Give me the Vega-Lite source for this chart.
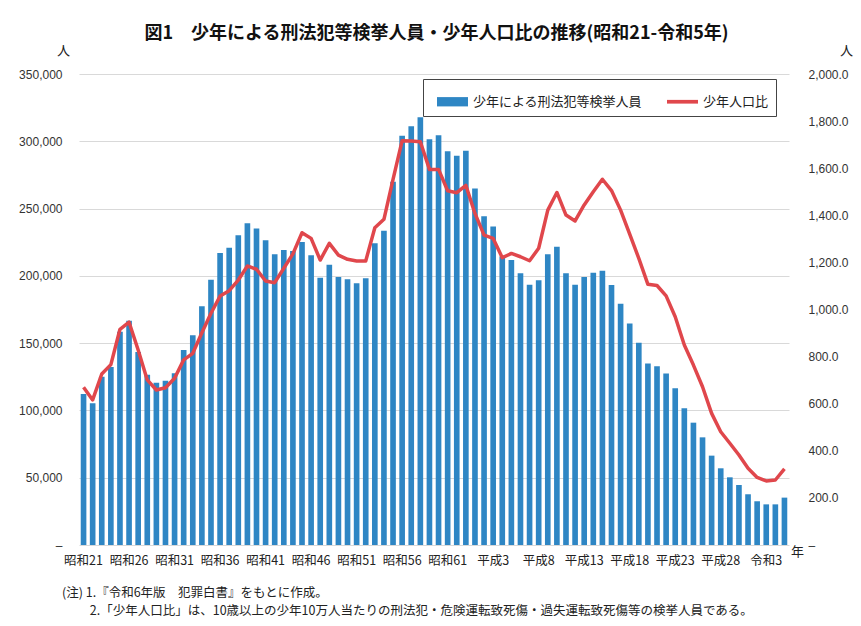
{
  "$schema": "https://vega.github.io/schema/vega-lite/v6.json",
  "width": 710,
  "height": 471,
  "autosize": {"type": "none"},
  "padding": {"left": 79, "top": 74, "right": 72, "bottom": 81},
  "background": "white",
  "config": {"view": {"stroke": null}, "font": "Noto Sans CJK JP"},
  "title": {
    "text": ["(注) 1.『令和6年版　犯罪白書』をもとに作成。", "\u200b　　   2.「少年人口比」は、10歳以上の少年10万人当たりの刑法犯・危険運転致死傷・過失運転致死傷等の検挙人員である。"],
    "orient": "bottom", "anchor": "start", "frame": "group", "dx": -17, "offset": 20,
    "fontSize": 12.5, "fontWeight": "normal", "color": "#222", "lineHeight": 18, "font": "Noto Sans CJK JP"
  },
  "data": {"values": [
    {"y": "昭和21", "n": 112200, "r": 670},
    {"y": "昭和22", "n": 105300, "r": 616},
    {"y": "昭和23", "n": 125100, "r": 726},
    {"y": "昭和24", "n": 132300, "r": 766},
    {"y": "昭和25", "n": 158500, "r": 916},
    {"y": "昭和26", "n": 166700, "r": 946},
    {"y": "昭和27", "n": 143400, "r": 828},
    {"y": "昭和28", "n": 126600, "r": 701},
    {"y": "昭和29", "n": 120600, "r": 658},
    {"y": "昭和30", "n": 122100, "r": 668},
    {"y": "昭和31", "n": 127600, "r": 708},
    {"y": "昭和32", "n": 144900, "r": 786},
    {"y": "昭和33", "n": 155800, "r": 814},
    {"y": "昭和34", "n": 177400, "r": 901},
    {"y": "昭和35", "n": 197200, "r": 984},
    {"y": "昭和36", "n": 217000, "r": 1057},
    {"y": "昭和37", "n": 220900, "r": 1080},
    {"y": "昭和38", "n": 230100, "r": 1125},
    {"y": "昭和39", "n": 239000, "r": 1185},
    {"y": "昭和40", "n": 235100, "r": 1171},
    {"y": "昭和41", "n": 226400, "r": 1121},
    {"y": "昭和42", "n": 216000, "r": 1114},
    {"y": "昭和43", "n": 219200, "r": 1175},
    {"y": "昭和44", "n": 218500, "r": 1236},
    {"y": "昭和45", "n": 225200, "r": 1326},
    {"y": "昭和46", "n": 215300, "r": 1302},
    {"y": "昭和47", "n": 198600, "r": 1210},
    {"y": "昭和48", "n": 208300, "r": 1281},
    {"y": "昭和49", "n": 199200, "r": 1231},
    {"y": "昭和50", "n": 197400, "r": 1213},
    {"y": "昭和51", "n": 194500, "r": 1206},
    {"y": "昭和52", "n": 198200, "r": 1206},
    {"y": "昭和53", "n": 224200, "r": 1347},
    {"y": "昭和54", "n": 233600, "r": 1383},
    {"y": "昭和55", "n": 270000, "r": 1553},
    {"y": "昭和56", "n": 304200, "r": 1717},
    {"y": "昭和57", "n": 311100, "r": 1715},
    {"y": "昭和58", "n": 317800, "r": 1712},
    {"y": "昭和59", "n": 301500, "r": 1595},
    {"y": "昭和60", "n": 304400, "r": 1595},
    {"y": "昭和61", "n": 292600, "r": 1504},
    {"y": "昭和62", "n": 289300, "r": 1496},
    {"y": "昭和63", "n": 293000, "r": 1527},
    {"y": "平成元", "n": 265000, "r": 1408},
    {"y": "平成2", "n": 244300, "r": 1316},
    {"y": "平成3", "n": 236600, "r": 1302},
    {"y": "平成4", "n": 214300, "r": 1220},
    {"y": "平成5", "n": 211800, "r": 1238},
    {"y": "平成6", "n": 201900, "r": 1224},
    {"y": "平成7", "n": 193400, "r": 1207},
    {"y": "平成8", "n": 196700, "r": 1260},
    {"y": "平成9", "n": 216000, "r": 1422},
    {"y": "平成10", "n": 221700, "r": 1497},
    {"y": "平成11", "n": 201900, "r": 1401},
    {"y": "平成12", "n": 193400, "r": 1376},
    {"y": "平成13", "n": 199100, "r": 1444},
    {"y": "平成14", "n": 202400, "r": 1500},
    {"y": "平成15", "n": 203800, "r": 1553},
    {"y": "平成16", "n": 193200, "r": 1505},
    {"y": "平成17", "n": 179300, "r": 1422},
    {"y": "平成18", "n": 164600, "r": 1320},
    {"y": "平成19", "n": 150200, "r": 1217},
    {"y": "平成20", "n": 134800, "r": 1107},
    {"y": "平成21", "n": 132800, "r": 1102},
    {"y": "平成22", "n": 127500, "r": 1058},
    {"y": "平成23", "n": 116400, "r": 969},
    {"y": "平成24", "n": 101600, "r": 849},
    {"y": "平成25", "n": 90900, "r": 764},
    {"y": "平成26", "n": 80000, "r": 672},
    {"y": "平成27", "n": 66400, "r": 559},
    {"y": "平成28", "n": 57000, "r": 481},
    {"y": "平成29", "n": 50300, "r": 432},
    {"y": "平成30", "n": 44600, "r": 382},
    {"y": "令和元", "n": 37700, "r": 326},
    {"y": "令和2", "n": 32500, "r": 287},
    {"y": "令和3", "n": 30200, "r": 272},
    {"y": "令和4", "n": 30200, "r": 276},
    {"y": "令和5", "n": 35200, "r": 323}
  ]},
  "layer": [
    {
      "mark": {"type": "bar"},
      "encoding": {
        "x": {
          "field": "y", "type": "ordinal", "sort": null,
          "scale": {"paddingInner": 0.38, "paddingOuter": 0.19},
          "axis": {
            "orient": "bottom",
            "values": ["昭和21","昭和26","昭和31","昭和36","昭和41","昭和46","昭和51","昭和56","昭和61","平成3","平成8","平成13","平成18","平成23","平成28","令和3"],
            "labelAngle": 0, "labelFontSize": 12.5, "labelColor": "#222", "labelPadding": 9,
            "labelOverlap": false, "labelFont": "Noto Sans CJK JP",
            "ticks": false, "domain": false, "grid": false,
            "title": "年", "titleX": 718, "titleY": 6, "titleAlign": "center", "titleBaseline": "middle",
            "titleFontSize": 13, "titleFontWeight": "normal", "titleColor": "#222", "titleFont": "Noto Sans CJK JP"
          }
        },
        "y": {
          "field": "n", "type": "quantitative",
          "scale": {"domain": [0, 350000], "nice": false},
          "axis": {
            "values": [0, 50000, 100000, 150000, 200000, 250000, 300000, 350000],
            "labelExpr": "datum.value == 0 ? '–' : format(datum.value, ',')",
            "labelFont": "Liberation Sans", "labelFontSize": 12, "labelColor": "#333", "labelPadding": 17,
            "ticks": false, "domain": false, "grid": true, "gridColor": "#d9d9d9", "gridWidth": 1,
            "title": "人", "titleAngle": 0, "titleX": -16, "titleY": -24, "titleAlign": "center", "titleBaseline": "middle",
            "titleFontSize": 13, "titleFontWeight": "normal", "titleColor": "#222", "titleFont": "Noto Sans CJK JP"
          }
        },
        "color": {
          "datum": "少年による刑法犯等検挙人員",
          "scale": {"domain": ["少年による刑法犯等検挙人員", "少年人口比"], "range": ["#2E86C4", "#E0474C"]},
          "legend": {
            "orient": "none", "legendX": 344, "legendY": 5, "direction": "horizontal", "title": null,
            "strokeColor": "#444", "fillColor": "white", "padding": 7, "symbolOffset": 7,
            "symbolSize": 961, "labelFontSize": 13, "labelColor": "#222", "labelOffset": 5,
            "columnPadding": 17, "labelLimit": 300, "labelFont": "Noto Sans CJK JP",
            "encode": {
              "symbols": {"update": {
                "shape": {"signal": "datum.value === '少年人口比' ? 'M-1,-0.12L1,-0.12L1,0.12L-1,0.12Z' : 'M-1,-0.3L1,-0.3L1,0.3L-1,0.3Z'"},
                "fill": {"signal": "datum.value === '少年人口比' ? '#E0474C' : '#2E86C4'"},
                "fillOpacity": {"value": 1},
                "strokeWidth": {"value": 0},
                "size": {"value": 961}
              }}
            }
          }
        }
      }
    },
    {
      "mark": {"type": "line", "strokeWidth": 3.5, "strokeJoin": "round"},
      "encoding": {
        "x": {
          "field": "y", "type": "ordinal", "sort": null,
          "axis": {
            "orient": "top", "labels": false, "ticks": false, "domain": false, "grid": false,
            "title": "図1　少年による刑法犯等検挙人員・少年人口比の推移(昭和21-令和5年)",
            "titleX": 357, "titleY": -41, "titleAlign": "center", "titleBaseline": "middle",
            "titleFontSize": 18, "titleFontWeight": "bold", "titleColor": "#111", "titleFont": "Noto Sans CJK JP"
          }
        },
        "y": {
          "field": "r", "type": "quantitative",
          "scale": {"domain": [0, 2000], "nice": false},
          "axis": {
            "orient": "right",
            "values": [0, 200, 400, 600, 800, 1000, 1200, 1400, 1600, 1800, 2000],
            "labelExpr": "datum.value == 0 ? '–' : format(datum.value, ',.1f')",
            "labelFont": "Liberation Sans", "labelFontSize": 12, "labelColor": "#333", "labelPadding": 19,
            "ticks": false, "domain": false, "grid": false,
            "title": "人", "titleAngle": 0, "titleX": 57, "titleY": -24, "titleAlign": "center", "titleBaseline": "middle",
            "titleFontSize": 13, "titleFontWeight": "normal", "titleColor": "#222", "titleFont": "Noto Sans CJK JP"
          }
        },
        "color": {"datum": "少年人口比"}
      }
    }
  ],
  "resolve": {"scale": {"y": "independent"}, "axis": {"x": "independent"}}
}
